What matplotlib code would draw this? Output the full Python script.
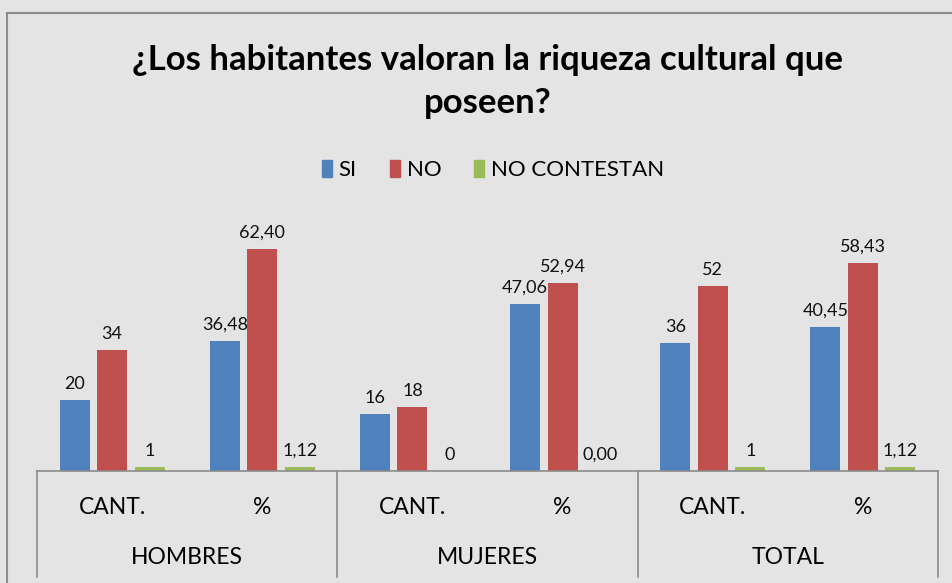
import numpy as np
import matplotlib
matplotlib.use('Agg')
import matplotlib.pyplot as plt
from matplotlib.lines import Line2D
from matplotlib.patches import Patch

plt.rcParams['font.family'] = ['Lato', 'DejaVu Sans']

# datos
grupos = ['HOMBRES', 'MUJERES', 'TOTAL']
subcats = ['CANT.', '%', 'CANT.', '%', 'CANT.', '%']
series = ['SI', 'NO', 'NO CONTESTAN']
si = [20, 36.48, 16, 47.06, 36, 40.45]
no = [34, 62.40, 18, 52.94, 52, 58.43]
no_contestan = [1, 1.12, 0, 0.00, 1, 1.12]
etq_si = ['20', '36,48', '16', '47,06', '36', '40,45']
etq_no = ['34', '62,40', '18', '52,94', '52', '58,43']
etq_nc = ['1', '1,12', '0', '0,00', '1', '1,12']

colores = ['#4F81BD', '#C0504D', '#9BBB59']
fondo = '#e4e4e4'

W, H = 952, 583
fig = plt.figure(figsize=(W / 100, H / 100), dpi=100)
fig.patch.set_facecolor(fondo)

# borde del grafico
fig.add_artist(Line2D([7 / W, 7 / W], [0, 1 - 13 / H], color='#8c8c8c', lw=1.5))
fig.add_artist(Line2D([7 / W, 1], [1 - 13 / H, 1 - 13 / H], color='#8c8c8c', lw=1.5))

x0, x1, ybase, ytop = 37, 938, 471, 222
ax = fig.add_axes([x0 / W, 1 - ybase / H, (x1 - x0) / W, (ybase - ytop) / H])
ax.set_facecolor('none')
for s in ['top', 'right', 'left']:
    ax.spines[s].set_visible(False)
ax.spines['bottom'].set_color('#8c8c8c')
ax.spines['bottom'].set_linewidth(1.2)
ax.set_xlim(-0.5, 5.5)
ax.set_ylim(0, 70)
ax.set_yticks([])
ax.set_xticks([])

x = np.arange(len(subcats))
off = 0.25
ancho = 0.2
datos = [si, no, no_contestan]
etqs = [etq_si, etq_no, etq_nc]
for i, (vals, lab) in enumerate(zip(datos, etqs)):
    pos = x + (i - 1) * off
    ax.bar(pos, vals, ancho, color=colores[i], zorder=2)
    for px, v, t in zip(pos, vals, lab):
        ax.annotate(t, (px, v), xytext=(0, 6), textcoords='offset points',
                    ha='center', va='bottom', fontsize=13, color='#111111')

# ejes de categorias jerarquicos
tr = ax.get_xaxis_transform()
hpx = ybase - ytop
for xs in [-0.5, 1.5, 3.5, 5.5]:
    ax.add_line(Line2D([xs, xs], [0, -(577 - ybase) / hpx], transform=tr,
                       color='#8c8c8c', lw=1.2, clip_on=False))
for xi, s in zip(x, subcats):
    ax.text(xi, -(508 - ybase) / hpx, s, transform=tr, ha='center', va='center',
            fontsize=16.5)
for gi, g in enumerate(grupos):
    ax.text(2 * gi + 0.5, -(558 - ybase) / hpx, g, transform=tr, ha='center',
            va='center', fontsize=16.5)

fig.text(488 / W, 1 - 60 / H, '¿Los habitantes valoran la riqueza cultural que',
         ha='center', va='center', fontsize=25, fontweight='bold')
fig.text(488 / W, 1 - 103 / H, 'poseen?', ha='center', va='center',
         fontsize=25, fontweight='bold')

handles = [Patch(color=c) for c in colores]
fig.legend(handles, series, loc='center', bbox_to_anchor=(493 / W, 1 - 170 / H),
           ncol=3, frameon=False, fontsize=16, handlelength=0.45, handleheight=0.8,
           handletextpad=0.3, columnspacing=1.5)

fig.savefig('out.png', dpi=100, facecolor=fondo)
